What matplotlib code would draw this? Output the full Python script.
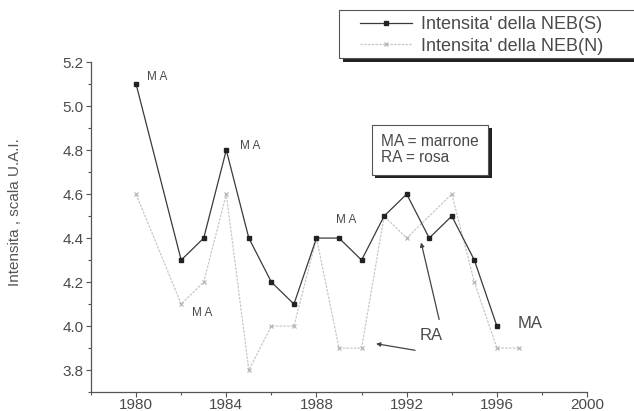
import matplotlib
matplotlib.use("Agg")
import matplotlib.pyplot as plt
from matplotlib.ticker import MultipleLocator
from matplotlib.patches import Rectangle
import matplotlib.patheffects as pe

plt.rcParams['font.family'] = ['Liberation Sans', 'DejaVu Sans']

# Intensity of the South Equatorial Belt (S) and North Equatorial Belt (N)
years_s = [1980, 1982, 1983, 1984, 1985, 1986, 1987, 1988, 1989, 1990,
           1991, 1992, 1993, 1994, 1995, 1996]
neb_s = [5.1, 4.3, 4.4, 4.8, 4.4, 4.2, 4.1, 4.4, 4.4, 4.3,
         4.5, 4.6, 4.4, 4.5, 4.3, 4.0]

years_n = [1980, 1982, 1983, 1984, 1985, 1986, 1987, 1988, 1989, 1990,
           1991, 1992, 1994, 1995, 1996, 1997]
neb_n = [4.6, 4.1, 4.2, 4.6, 3.8, 4.0, 4.0, 4.4, 3.9, 3.9,
         4.5, 4.4, 4.6, 4.2, 3.9, 3.9]

label_s = "Intensita' della NEB(S)"
label_n = "Intensita' della NEB(N)"
ylabel = "Intensita , scala U.A.I."
note = "MA = marrone\nRA = rosa"

text_col = '#4a4a4a'

fig = plt.figure(figsize=(6.34, 4.11), dpi=100)
ax = fig.add_axes([0.1435, 0.046, 0.7825, 0.803])

ln_n, = ax.plot(years_n, neb_n, color='#c8c8c8', lw=0.9, ls=(0, (2, 1)),
                marker='x', ms=3.5, mew=0.8, mec='#b0b0b0', label=label_n)
ln_s, = ax.plot(years_s, neb_s, color='#3a3a3a', lw=0.9,
                marker='s', ms=3.5, mfc='#222222', mec='#222222', label=label_s)

ax.set_xlim(1978, 2000)
ax.set_ylim(3.7, 5.2)
ax.xaxis.set_major_locator(MultipleLocator(4))
ax.xaxis.set_minor_locator(MultipleLocator(2))
ax.yaxis.set_major_locator(MultipleLocator(0.2))
ax.yaxis.set_minor_locator(MultipleLocator(0.1))
ax.yaxis.set_major_formatter(matplotlib.ticker.FormatStrFormatter('%.1f'))

for side in ('top', 'right'):
    ax.spines[side].set_visible(False)
for side in ('left', 'bottom'):
    ax.spines[side].set_color('#555555')
    ax.spines[side].set_linewidth(0.9)
ax.tick_params(which='both', direction='out', colors='#555555', labelcolor=text_col,
               labelsize=11, width=0.8)
ax.tick_params(which='major', length=3.5)
ax.tick_params(which='minor', length=2.5)
ax.tick_params(axis='x', which='major', pad=0.5)
ax.tick_params(axis='y', which='major', pad=2.0)

fig.text(0.024, 0.485, ylabel, rotation=90, ha='center', va='center',
         fontsize=11, color='#555555')

# colour tags on the curves
small = dict(fontsize=8.5, color=text_col)
ax.text(1980.5, 5.13, 'M A', ha='left', va='center', **small)
ax.text(1984.6, 4.82, 'M A', ha='left', va='center', **small)
ax.text(1982.5, 4.06, 'M A', ha='left', va='center', **small)
ax.text(1988.85, 4.48, 'M A', ha='left', va='center', **small)
ax.text(1996.9, 4.01, 'MA', ha='left', va='center', fontsize=12, color=text_col)

ax.text(1993.1, 3.955, 'RA', ha='center', va='center', fontsize=12, color=text_col)
arrow = dict(arrowstyle='-|>', color='#444444', lw=0.9, mutation_scale=6,
             shrinkA=0, shrinkB=0)
ax.annotate('', xy=(1992.64, 4.38), xytext=(1993.44, 4.03), arrowprops=arrow)
ax.annotate('', xy=(1990.64, 3.92), xytext=(1992.37, 3.89), arrowprops=arrow)

shadow = [pe.SimplePatchShadow(offset=(2.5, -2.5), shadow_rgbFace='#222222', alpha=1.0),
          pe.Normal()]
fig.text(0.601, 0.636, note, ha='left', va='center', fontsize=11.2, color=text_col,
         linespacing=1.1,
         bbox=dict(boxstyle='square,pad=0.6', fc='white', ec='#555555', lw=0.8,
                   path_effects=shadow))

# legend frame running off the right edge, with a drop shadow
W, H = 634.0, 411.0
frame = Rectangle((339 / W, 1 - 58 / H), 330 / W, 48 / H, transform=fig.transFigure,
                  fc='white', ec='#555555', lw=0.8, zorder=3,
                  path_effects=[pe.SimplePatchShadow(offset=(3, -3),
                                                     shadow_rgbFace='#222222',
                                                     alpha=1.0),
                                pe.Normal()])
fig.patches.append(frame)

leg = fig.legend(handles=[ln_s, ln_n], loc='upper left',
                 bbox_to_anchor=(360 / W, 1 - 16 / H),
                 fontsize=13, handlelength=2.9, handletextpad=0.5,
                 borderpad=0.0, borderaxespad=0.0, labelspacing=0.25,
                 frameon=False)
leg.set_zorder(4)
for t in leg.get_texts():
    t.set_color(text_col)

fig.savefig('out.png', dpi=100)
